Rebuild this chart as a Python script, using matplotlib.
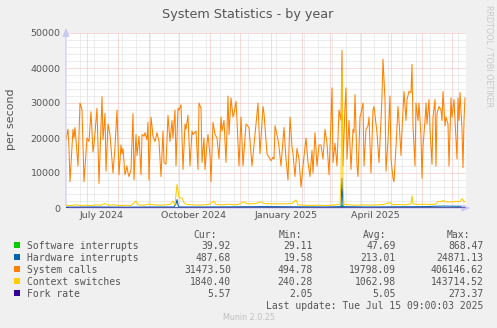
import numpy as np
import matplotlib
matplotlib.use("Agg")
import matplotlib.pyplot as plt
from matplotlib.patches import Rectangle

# time axis: one year graph (400 days), day offsets from start
start = np.datetime64("2024-06-10T09:00")
end = np.datetime64("2025-07-15T09:00")

# System calls (daily averages)
sys_days = [0, 2, 3, 4, 7, 8, 9, 12, 14, 16, 18, 21, 23, 25, 27, 28, 31, 33, 36, 37,
            39, 40, 42, 44, 47, 49, 51, 53, 55, 56, 57, 59, 61, 62, 63, 65, 67, 68, 70, 71,
            73, 75, 76, 78, 79, 81, 82, 83, 85, 87, 89, 91, 93, 95, 97, 98, 100, 102, 104, 106,
            107, 109, 110, 112, 113, 115, 117, 119, 120, 122, 124, 126, 127, 130, 132, 133, 135, 136, 138, 139,
            141, 142, 144, 145, 147, 149, 151, 153, 155, 156, 158, 160, 162, 163, 165, 167, 168, 170, 171, 173,
            175, 177, 180, 183, 186, 190, 192, 194, 197, 198, 201, 203, 205, 207, 208, 209, 212, 213, 215, 218,
            220, 222, 224, 226, 227, 229, 231, 233, 235, 237, 239, 240, 242, 244, 246, 247, 249, 251, 253, 255,
            257, 259, 261, 263, 265, 266, 267, 269, 271, 273, 275, 276, 277, 279, 280, 281, 283, 285, 287, 288,
            289, 291, 292, 294, 295, 297, 298, 300, 302, 303, 305, 307, 308, 310, 311, 313, 315, 316, 317, 319,
            320, 322, 324, 325, 327, 328, 330, 332, 333, 335, 336, 338, 340, 341, 343, 345, 346, 347, 349, 350,
            352, 353, 355, 356, 357, 359, 360, 361, 363, 364, 366, 367, 369, 370, 371, 373, 375, 376, 377, 379,
            380, 382, 383, 385, 386, 388, 389, 391, 392, 393, 394, 396, 397, 398, 399]
sys_vals = [19500, 22500, 17000, 7500, 22500, 20000, 23000, 12000, 30000, 28000, 7500, 20000, 19000, 27500, 16000, 18000, 28500, 7000, 31800, 19500,
            27000, 10500, 24000, 21000, 10000, 17500, 28000, 9500, 18000, 15500, 17000, 9500, 12000, 10000, 9000, 11000, 27000, 8000, 21000, 15000,
            20500, 9500, 21000, 20500, 21500, 19500, 24500, 8000, 26000, 20500, 19000, 21500, 19000, 9000, 22000, 13000, 12500, 26500, 19000, 25000,
            20000, 28000, 12000, 28500, 28000, 29500, 11000, 24000, 22500, 26500, 12000, 22000, 21000, 22000, 11000, 30000, 28500, 13000, 20000, 11000,
            18500, 21000, 15000, 7500, 24500, 21000, 20000, 14000, 26000, 22000, 25000, 13000, 32000, 21000, 31500, 26000, 27000, 30500, 25000, 12000,
            26000, 12000, 24000, 23000, 12000, 24000, 30000, 15500, 29000, 27000, 15500, 14500, 13500, 14500, 14000, 23500, 19500, 17500, 12000, 23000,
            14000, 8000, 26000, 17500, 15500, 9000, 17000, 14000, 6000, 12000, 17500, 20000, 13000, 9000, 16500, 10000, 21500, 12000, 18000, 18000,
            14000, 22500, 18500, 9500, 25000, 34300, 13000, 18500, 12000, 28000, 25000, 45000, 12000, 29000, 34300, 14000, 25000, 11000, 22500, 21500,
            32400, 12000, 9000, 26000, 27000, 30000, 12000, 22500, 23500, 26000, 10000, 28000, 29000, 24000, 21500, 13000, 25000, 32000, 42500, 31000,
            10500, 19500, 32000, 14000, 8500, 7500, 17500, 29000, 25000, 15000, 22500, 33300, 25000, 31000, 33300, 33000, 41000, 23500, 12000, 30000,
            25000, 30000, 20500, 8500, 17500, 25000, 30000, 24000, 31000, 22500, 12500, 26000, 31000, 12000, 27000, 29000, 28000, 25000, 33300, 23500,
            26000, 24000, 12000, 31500, 26000, 31000, 25000, 14000, 31500, 25000, 33000, 22500, 11500, 25000, 31500]

# Context switches
ctx_days = [0, 5, 10, 15, 20, 25, 30, 35, 39, 42, 48, 55, 60, 65, 70, 72, 78, 82, 88, 95,
            100, 104, 107, 109, 111, 113, 116, 118, 121, 126, 132, 138, 143, 148, 150, 156, 162, 168, 172, 178,
            181, 186, 190, 195, 198, 205, 212, 220, 226, 230, 232, 238, 245, 252, 258, 265, 270, 274, 275, 276,
            277, 278, 284, 290, 298, 305, 312, 318, 324, 326, 332, 340, 345, 346, 347, 352, 358, 364, 370, 372,
            376, 377, 380, 385, 390, 394, 396, 398, 399]
ctx_vals = [800, 700, 900, 700, 800, 700, 900, 800, 1300, 800, 900, 700, 800, 700, 2000, 900, 800, 1100, 900, 800,
            900, 1000, 2000, 900, 6800, 3000, 2800, 1500, 1000, 900, 800, 900, 1000, 2000, 1000, 900, 1100, 900, 1000, 1800,
            1200, 1200, 1300, 1800, 1300, 1200, 1200, 1200, 1300, 2300, 900, 800, 700, 800, 700, 800, 900, 1000, 8000, 39000,
            6000, 1000, 900, 800, 900, 800, 900, 1000, 1600, 900, 1000, 900, 1200, 3500, 1200, 1000, 1100, 1000, 1100, 1900,
            1800, 2200, 1800, 1700, 1900, 1800, 2700, 1700, 1840]

# Hardware interrupts
irq_days = [0, 30, 60, 90, 108, 110, 111, 112, 113, 140, 170, 200, 230, 260, 275, 276, 277, 300, 330, 360,
            370, 380, 390, 399]
irq_vals = [250, 300, 250, 300, 300, 1200, 2400, 800, 300, 300, 350, 400, 350, 300, 400, 8500, 400, 300, 350, 400,
            500, 550, 500, 490]

# Software interrupts and fork rate (close to zero on this scale)
soft_days = [0, 100, 200, 275, 276, 277, 300, 399]
soft_vals = [45, 48, 50, 50, 800, 50, 47, 40]
fork_days = [0, 100, 200, 275, 276, 277, 300, 399]
fork_vals = [5, 5, 5, 5, 60, 5, 5, 5.6]

legend_names = ["Software interrupts", "Hardware interrupts", "System calls",
                "Context switches", "Fork rate"]
legend_colors = ["#00CC00", "#0066B3", "#FF8000", "#FFCC00", "#330099"]
cur = ["39.92", "487.68", "31473.50", "1840.40", "5.57"]
vmin = ["29.11", "19.58", "494.78", "240.28", "2.05"]
vavg = ["47.69", "213.01", "19798.09", "1062.98", "5.05"]
vmax = ["868.47", "24871.13", "406146.62", "143714.52", "273.37"]

xlabels = ["July 2024", "October 2024", "January 2025", "April 2025"]
xlabel_dates = ["2024-07-16", "2024-10-16", "2025-01-16", "2025-04-16"]


def to_time(days):
    return start + np.array(days) * np.timedelta64(1440, "m")


W, H = 497, 328
txt = "#555555"
fig = plt.figure(figsize=(W / 100, H / 100), dpi=100, facecolor="#F0F0F0")
ax = fig.add_axes([66 / W, 120 / H, 400 / W, 175 / H])
ax.set_facecolor("white")

# grid: minor every 2 weeks / 2000, major every month / 10000
dot = (0, (1, 1))
minor_c = "#dddddd"
major_c = "#f4b4b4"
for d in np.arange(np.datetime64("2024-06-24"), end, np.timedelta64(14, "D")):
    ax.axvline(d, color=minor_c, lw=0.72, ls=dot, zorder=0)
for v in range(2000, 50001, 2000):
    if v % 10000:
        ax.axhline(v, color=minor_c, lw=0.72, ls=dot, zorder=0)
for m in np.arange(np.datetime64("2024-07"), np.datetime64("2025-08"), np.timedelta64(1, "M")):
    ax.axvline(m.astype("datetime64[D]"), color=major_c, lw=0.72, ls=dot, zorder=1)
for v in range(10000, 50001, 10000):
    ax.axhline(v, color=major_c, lw=0.72, ls=dot, zorder=1)

lw = 0.75
ax.plot(to_time(soft_days), soft_vals, color=legend_colors[0], lw=lw, zorder=3)
ax.plot(to_time(irq_days), irq_vals, color=legend_colors[1], lw=lw, zorder=3)
ax.plot(to_time(sys_days), sys_vals, color=legend_colors[2], lw=lw, zorder=3)
ax.plot(to_time(ctx_days), ctx_vals, color=legend_colors[3], lw=lw, zorder=4)
ax.plot(to_time(fork_days), fork_vals, color=legend_colors[4], lw=lw, zorder=5)

ax.set_xlim(start, end)
ax.set_ylim(0, 50000)
for s in ax.spines.values():
    s.set_visible(False)
ax.set_yticks(range(0, 50001, 10000))
ax.set_yticklabels([str(v) for v in range(0, 50001, 10000)])
ax.set_xticks([np.datetime64(d) for d in xlabel_dates])
ax.set_xticklabels(xlabels)
ax.tick_params(length=0, labelsize=6.8, labelcolor=txt)
ax.tick_params(axis="y", pad=4)
ax.tick_params(axis="x", pad=2)

# axis lines with arrows
acol = "#c8c8f4"
ax.annotate("", xy=(0, 1.045), xytext=(0, 0), xycoords="axes fraction",
            arrowprops=dict(arrowstyle="-|>,head_length=0.5,head_width=0.2", color=acol, lw=0.8),
            annotation_clip=False)
ax.annotate("", xy=(1.018, 0), xytext=(0, 0), xycoords="axes fraction",
            arrowprops=dict(arrowstyle="-|>,head_length=0.5,head_width=0.2", color=acol, lw=0.8),
            annotation_clip=False)

fig.text(248 / W, 1 - 18.3 / H, "System Statistics - by year", ha="center", va="baseline",
         fontsize=9.2, color=txt)
fig.text(11 / W, 1 - 119 / H, "per second", rotation=90, ha="center", va="center",
         fontsize=7.9, color=txt)
fig.text(489 / W, 1 - 5 / H, "RRDTOOL / TOBI OETIKER", rotation=270, ha="center", va="top",
         fontsize=5.8, color="#c8c8c8")

# legend table
mono = "DejaVu Sans Mono"
fs = 7.0
cols = [231, 313, 396, 483.5]
heads = ["Cur:", "Min:", "Avg:", "Max:"]
head_ends = [217, 302, 386, 470]
for h, x in zip(heads, head_ends):
    fig.text(x / W, 1 - 237.5 / H, h, ha="right", va="baseline", fontsize=fs, family=mono, color=txt)
for i, name in enumerate(legend_names):
    yb = 249.3 + 12 * i
    fig.patches.append(Rectangle((14 / W, 1 - (yb - 1) / H), 6 / W, 6 / H,
                                 transform=fig.transFigure, facecolor=legend_colors[i],
                                 edgecolor="none"))
    fig.text(26.7 / W, 1 - yb / H, name, ha="left", va="baseline", fontsize=fs, family=mono, color=txt)
    for vals, x in zip([cur, vmin, vavg, vmax], cols):
        fig.text(x / W, 1 - yb / H, vals[i], ha="right", va="baseline", fontsize=fs,
                 family=mono, color=txt)
fig.text(483.5 / W, 1 - 309.3 / H, "Last update: Tue Jul 15 09:00:03 2025", ha="right",
         va="baseline", fontsize=fs, family=mono, color=txt)
fig.text(249 / W, 1 - 320 / H, "Munin 2.0.25", ha="center", va="baseline", fontsize=5.8,
         color="#c0c0c0")

fig.savefig("out.png", dpi=100, facecolor=fig.get_facecolor())
